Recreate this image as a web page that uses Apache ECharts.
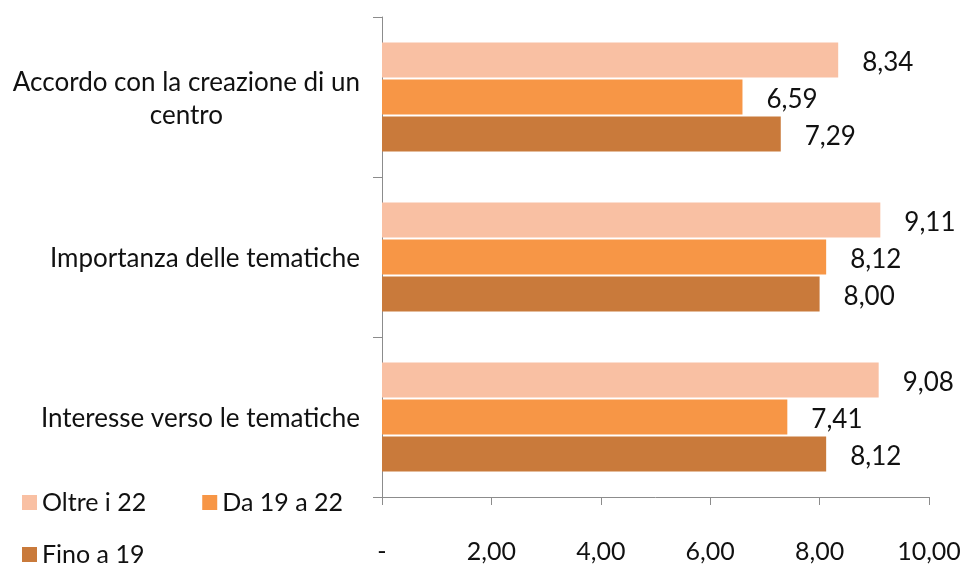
<!DOCTYPE html>
<html>
<head>
<meta charset="utf-8">
<script src="https://cdn.jsdelivr.net/npm/echarts@6/dist/echarts.min.js"></script>
<style>
html,body{margin:0;padding:0;background:#fff;}
#c{width:966px;height:567px;}
</style>
</head>
<body>
<div id="c"></div>
<script>
var categories = ["Accordo con la creazione di un\ncentro", "Importanza delle tematiche", "Interesse verso le tematiche"];
var seriesNames = ["Oltre i 22", "Da 19 a 22", "Fino a 19"];
var oltre22 = [8.34, 9.11, 9.08];
var da19a22 = [6.59, 8.12, 7.41];
var fino19 = [7.29, 8.00, 8.12];
var colors = ["#F9C0A3", "#F79646", "#C97A3B"];

var FONT = "Lato";
function fmt(v){ return v === 0 ? "-" : v.toFixed(2).replace(".", ","); }

var chart = echarts.init(document.getElementById("c"), null, {renderer: "canvas"});
function mk(name, data, color){
  return {
    name: name, type: "bar", data: data,
    barWidth: 35, barGap: "6%",
    itemStyle: {color: color},
    label: {show: true, position: "right", distance: 24, offset: [0, 3],
      formatter: function(p){ return fmt(p.value); },
      fontFamily: FONT, fontSize: 26, color: "#111"}
  };
}
var legText = {fontFamily: FONT, fontSize: 25, color: "#111"};
chart.setOption({
  animation: false,
  backgroundColor: "#fff",
  textStyle: {fontFamily: FONT},
  grid: {left: 382, right: 37, top: 17, bottom: 70, containLabel: false},
  legend: [
    {data: [seriesNames[0], seriesNames[1]], left: 17, top: 485, itemWidth: 15, itemHeight: 15, itemGap: 56,
     icon: "rect", textStyle: legText},
    {data: [seriesNames[2]], left: 17, top: 537, itemWidth: 15, itemHeight: 15,
     icon: "rect", textStyle: legText}
  ],
  xAxis: {
    type: "value", min: 0, max: 10, interval: 2,
    axisLine: {show: true, lineStyle: {color: "#8c8c8c"}},
    axisTick: {show: true, length: 8, lineStyle: {color: "#8c8c8c"}},
    splitLine: {show: false},
    axisLabel: {formatter: fmt, fontFamily: FONT, fontSize: 25, color: "#111", margin: 42}
  },
  yAxis: {
    type: "category", data: categories, inverse: true,
    axisLine: {show: true, lineStyle: {color: "#8c8c8c"}},
    axisTick: {show: true, length: 9, lineStyle: {color: "#8c8c8c"}},
    axisLabel: {
      margin: 22, fontFamily: FONT, fontSize: 26, color: "#111", lineHeight: 33,
      formatter: function(v){
        return v.split("\n").map(function(s){ return "{c|" + s + "}"; }).join("\n");
      },
      rich: {c: {align: "center", fontFamily: FONT, fontSize: 26, color: "#111", lineHeight: 33, padding: [4, 0, 0, 0]}}
    }
  },
  series: [mk(seriesNames[0], oltre22, colors[0]), mk(seriesNames[1], da19a22, colors[1]), mk(seriesNames[2], fino19, colors[2])]
});
</script>
</body>
</html>
